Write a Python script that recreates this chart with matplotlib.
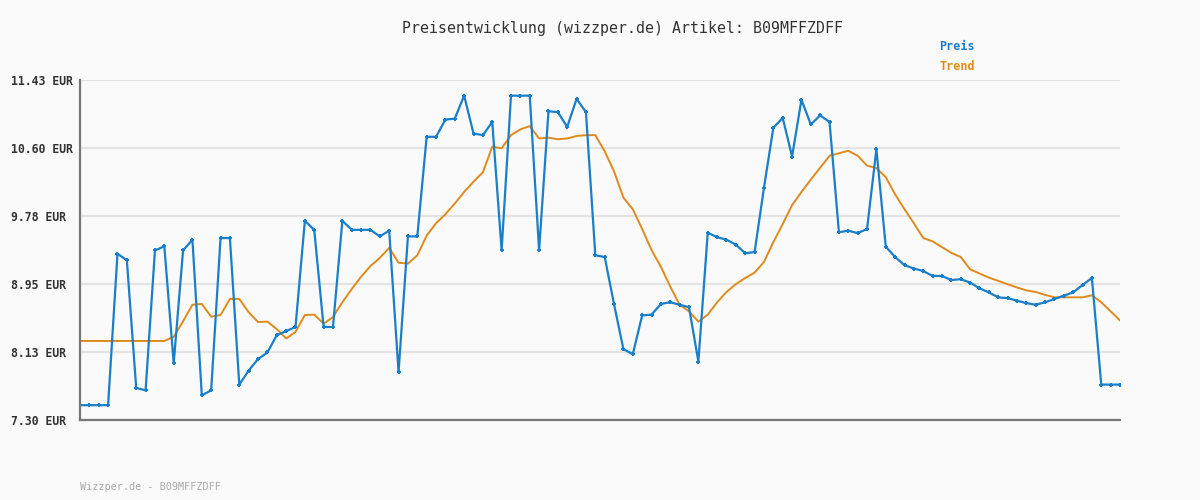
import matplotlib
matplotlib.use("Agg")
import matplotlib.pyplot as plt

preis = [7.48, 7.48, 7.48, 7.48, 9.32, 9.24, 7.69, 7.66, 9.36, 9.41,
         7.99, 9.36, 9.49, 7.60, 7.66, 9.51, 9.51, 7.73, 7.90, 8.04,
         8.12, 8.33, 8.38, 8.43, 9.72, 9.61, 8.43, 8.43, 9.72, 9.61,
         9.61, 9.61, 9.53, 9.60, 7.88, 9.53, 9.53, 10.74, 10.74, 10.95,
         10.96, 11.24, 10.78, 10.76, 10.92, 9.36, 11.24, 11.24, 11.24, 9.36,
         11.05, 11.04, 10.86, 11.20, 11.04, 9.30, 9.28, 8.705, 8.16, 8.10,
         8.57, 8.58, 8.71, 8.73, 8.70, 8.67, 8.01, 9.575, 9.52, 9.49,
         9.43, 9.325, 9.34, 10.12, 10.85, 10.97, 10.50, 11.19, 10.89, 11.00,
         10.92, 9.58, 9.60, 9.57, 9.62, 10.59, 9.405, 9.28, 9.18, 9.14,
         9.11, 9.05, 9.05, 9.00, 9.01, 8.97, 8.90, 8.85, 8.79, 8.78,
         8.75, 8.72, 8.70, 8.73, 8.77, 8.81, 8.85, 8.94, 9.025, 7.73,
         7.73, 7.73]

trend = [8.26, 8.26, 8.26, 8.26, 8.26, 8.26, 8.26, 8.26, 8.26, 8.26,
         8.31, 8.50, 8.70, 8.71, 8.555, 8.575, 8.77, 8.77, 8.61, 8.49,
         8.495, 8.405, 8.29, 8.37, 8.575, 8.58, 8.47, 8.55, 8.73, 8.89,
         9.04, 9.17, 9.27, 9.39, 9.21, 9.20, 9.30, 9.54, 9.69, 9.80,
         9.93, 10.07, 10.195, 10.31, 10.62, 10.60, 10.76, 10.83, 10.87, 10.72,
         10.73, 10.71, 10.72, 10.75, 10.76, 10.76, 10.565, 10.32, 10.00, 9.86,
         9.62, 9.365, 9.16, 8.92, 8.70, 8.62, 8.495, 8.58, 8.73, 8.855,
         8.95, 9.025, 9.09, 9.22, 9.46, 9.68, 9.91, 10.07, 10.22, 10.365,
         10.51, 10.54, 10.57, 10.51, 10.39, 10.36, 10.25, 10.04, 9.86, 9.69,
         9.51, 9.47, 9.40, 9.33, 9.28, 9.13, 9.08, 9.03, 8.99, 8.95,
         8.91, 8.875, 8.855, 8.82, 8.79, 8.79, 8.79, 8.79, 8.815, 8.73,
         8.62, 8.51]

y_ticks = [7.30, 8.13, 8.95, 9.78, 10.60, 11.43]
y_tick_labels = ["7.30 EUR", "8.13 EUR", "8.95 EUR", "9.78 EUR", "10.60 EUR", "11.43 EUR"]

title = "Preisentwicklung (wizzper.de) Artikel: B09MFFZDFF"
footer = "Wizzper.de - B09MFFZDFF"

BLUE = "#1a7fc9"
ORANGE = "#e08a1c"
BG = "#fafafa"
MONO = "DejaVu Sans Mono"

fig = plt.figure(figsize=(12, 5), dpi=100, facecolor=BG)
ax = fig.add_axes([80/1200, 80/500, 1040/1200, 340/500])
ax.set_facecolor(BG)

x = list(range(len(preis)))
ax.plot(x, trend, color=ORANGE, lw=1.4, zorder=3)
ax.plot(x, preis, color=BLUE, lw=1.6, marker="+", markersize=3.5,
        markeredgewidth=1.4, zorder=4)

ax.set_xlim(0, len(preis) - 1)
ax.set_ylim(7.30, 11.43)
ax.set_xticks([])
ax.set_yticks(y_ticks)
ax.set_yticklabels(y_tick_labels, fontfamily=MONO, fontweight="bold",
                   fontsize=8.3, color="#333333")
ax.tick_params(axis="y", length=0, pad=50)
for lab in ax.get_yticklabels():
    lab.set_ha("left")

ax.grid(axis="y", color="#e4e4e4", lw=1.6, zorder=0)
ax.set_axisbelow(True)
for s in ["top", "right"]:
    ax.spines[s].set_visible(False)
for s in ["left", "bottom"]:
    ax.spines[s].set_color("#777777")
    ax.spines[s].set_linewidth(1.6)
    ax.spines[s].set_zorder(5)

fig.text(623/1200, 1 - 28/500, title, ha="center", va="center",
         fontfamily=MONO, fontsize=10.7, color="#333333")
fig.text(939/1200, 1 - 47/500, "Preis", ha="left", va="center",
         fontfamily=MONO, fontweight="bold", fontsize=8.5, color=BLUE)
fig.text(939/1200, 1 - 67/500, "Trend", ha="left", va="center",
         fontfamily=MONO, fontweight="bold", fontsize=8.5, color=ORANGE)
fig.text(80/1200, 1 - 487/500, footer, ha="left", va="center",
         fontfamily=MONO, fontsize=7.3, color="#aaaaaa")

fig.savefig("out.png", dpi=100, facecolor=BG)
